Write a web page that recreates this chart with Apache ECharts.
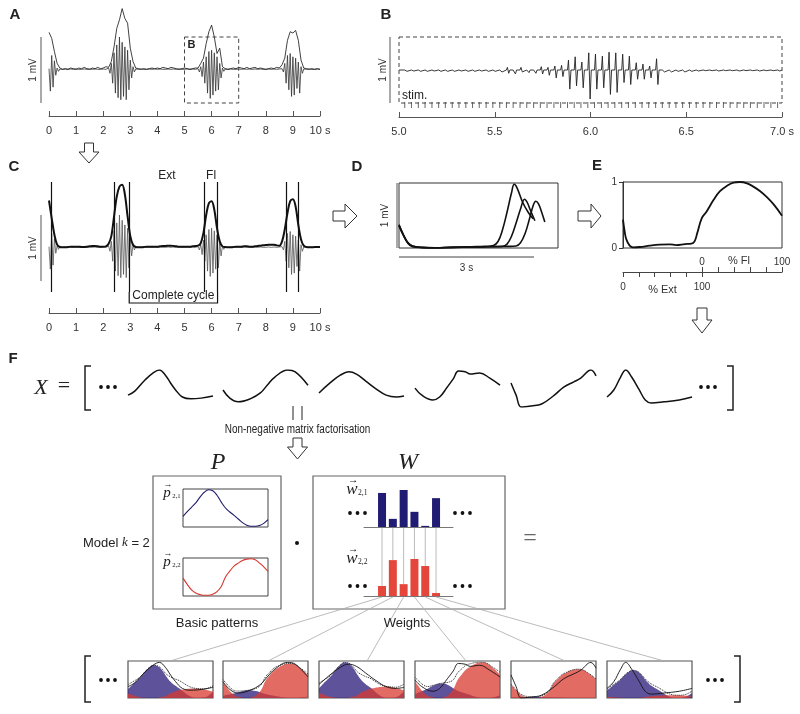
<!DOCTYPE html>
<html><head><meta charset="utf-8">
<script src="https://cdn.jsdelivr.net/npm/echarts@6.0.0/dist/echarts.min.js"></script>
<style>html,body{margin:0;padding:0;background:#fff;}#chart{width:800px;height:714px;}</style>
</head><body><div id="chart"></div>
<script>
// ================= DATA =================
// Panel A/C: raw EMG (mV), sampled every emgStep seconds from 0 s to 10 s
const emgStep = 0.05;
const rawEMG = [
  0.02,-0.32,0.22,-0.26,0.14,-0.08,0.03,-0.02,0.015,-0.015,0.01,-0.015,0.015,-0.01,0.01,-0.015,0.015,-0.01,0.01,-0.015,
  0.015,-0.01,0.01,-0.015,0.01,-0.01,0.015,-0.015,0.01,-0.01,0.015,-0.01,0.01,-0.015,0.015,-0.01,0.01,-0.015,0.01,-0.01,
  0.015,-0.015,0.01,-0.02,0.03,-0.05,0.1,-0.2,0.26,-0.35,0.38,-0.42,0.5,-0.45,0.42,-0.4,0.35,-0.45,0.3,-0.3,
  0.15,-0.12,0.05,-0.03,0.015,-0.01,0.01,-0.015,0.015,-0.01,0.01,-0.015,0.01,-0.01,0.015,-0.015,0.01,-0.01,0.015,-0.01,
  0.01,-0.015,0.015,-0.01,0.01,-0.015,0.01,-0.01,0.015,-0.015,0.01,-0.01,0.015,-0.01,0.01,-0.015,0.015,-0.01,0.01,-0.015,
  0.01,-0.01,0.015,-0.015,0.01,-0.01,0.015,-0.01,0.01,-0.015,0.02,-0.03,0.05,-0.1,0.12,-0.2,0.2,-0.35,0.28,-0.43,
  0.3,-0.38,0.26,-0.32,0.2,-0.3,0.1,-0.12,0.03,-0.02,0.015,-0.01,0.01,-0.015,0.015,-0.01,0.01,-0.015,0.01,-0.01,
  0.015,-0.01,0.01,-0.015,0.015,-0.01,0.01,-0.01,0.015,-0.015,0.01,-0.01,0.015,-0.01,0.01,-0.015,0.015,-0.01,0.01,-0.015,
  0.01,-0.01,0.015,-0.015,0.01,-0.01,0.015,-0.01,0.01,-0.015,0.015,-0.01,0.02,-0.03,0.1,-0.2,0.22,-0.3,0.25,-0.4,
  0.2,-0.38,0.18,-0.28,0.12,-0.35,0.05,-0.05,0.015,-0.01,0.01,-0.015,0.015,-0.01,0.01,-0.015,0.01,-0.01,0.015,-0.01,
  0.01
];
// Envelopes (mV), every envStep seconds
const envStep = 0.1;
const envA = [
  0.57,0.48,0.28,0.1,0.03,0.01,0.02,0.01,0.03,0.02,
  0.01,0.03,0.02,0.04,0.02,0.01,0.03,0.02,0.04,0.02,
  0.03,0.05,0.04,0.13,0.35,0.63,0.76,0.93,0.78,0.71,
  0.33,0.13,0.03,0.02,0.01,0.02,0.01,0.02,0.03,0.02,
  0.03,0.02,0.04,0.03,0.02,0.04,0.03,0.02,0.01,0.02,
  0.03,0.02,0.01,0.02,0.03,0.03,0.1,0.18,0.4,0.58,
  0.68,0.5,0.25,0.33,0.05,0.02,0.01,0.02,0.03,0.02,
  0.04,0.03,0.02,0.04,0.02,0.03,0.04,0.02,0.03,0.02,
  0.01,0.02,0.03,0.02,0.04,0.03,0.08,0.18,0.45,0.58,
  0.56,0.6,0.45,0.15,0.03,0.02,0.01,0.02,0.01,0.02,
  0.01
];
const envC = [
  0.72,0.45,0.2,0.05,0.015,0.01,0.01,0.015,0.02,0.02,
  0.02,0.02,0.015,0.015,0.02,0.025,0.03,0.03,0.025,0.02,
  0.02,0.025,0.065,0.18,0.48,0.78,0.93,0.96,0.81,0.48,
  0.18,0.05,0.015,0.01,0.01,0.015,0.02,0.02,0.02,0.02,
  0.02,0.025,0.03,0.03,0.035,0.035,0.03,0.025,0.02,0.02,
  0.02,0.02,0.02,0.025,0.03,0.035,0.075,0.23,0.5,0.68,
  0.71,0.58,0.3,0.1,0.025,0.015,0.01,0.01,0.015,0.02,
  0.02,0.02,0.025,0.025,0.02,0.02,0.025,0.03,0.035,0.04,
  0.045,0.05,0.05,0.05,0.04,0.035,0.1,0.28,0.53,0.71,
  0.74,0.63,0.35,0.13,0.035,0.015,0.01,0.01,0.015,0.015,
  0.015
];
// Panel C: onsets / offsets of bursts (s)
const cBounds = [0.1, 2.41, 2.96, 5.74, 6.22, 8.75, 9.2];

// Panel B: stimulation times (s) and response peak / trough (mV)
const stimTimes = [5.030,5.065,5.101,5.136,5.172,5.207,5.242,5.278,5.313,5.349,5.384,5.419,5.455,5.490,
  5.526,5.561,5.596,5.632,5.667,5.703,5.738,5.773,5.809,5.844,5.880,5.915,5.950,5.986,6.021,6.057,6.092,
  6.127,6.163,6.198,6.234,6.269,6.304,6.340,6.375,6.411,6.446,6.481,6.517,6.552,6.588,6.623,6.658,6.694,
  6.729,6.765,6.800,6.835,6.871,6.906,6.942,6.977];
const stimUp = [0.02,0.01,0.02,0.015,0.02,0.01,0.02,0.015,0.01,0.02,0.015,0.02,0.01,0.02,
  0.03,0.04,0.03,0.04,0.03,0.03,0.05,0.04,0.06,0.07,
  0.15,0.2,0.12,0.26,0.24,0.21,0.27,0.26,0.24,0.21,0.11,0.09,0.06,0.17,
  0.03,0.02,0.02,0.02,0.02,0.01,0.01,0.01,0.01,0.01,0.01,0.01,0.01,0.01,0.01,0.01,0.01,0.01];
const stimDown = [0.02,0.015,0.02,0.02,0.015,0.02,0.02,0.02,0.015,0.02,0.02,0.015,0.02,0.02,
  0.03,0.05,0.06,0.03,0.04,0.05,0.06,0.08,0.12,0.1,
  0.29,0.24,0.27,0.44,0.29,0.27,0.37,0.34,0.19,0.22,0.14,0.14,0.12,0.22,
  0.03,0.03,0.02,0.03,0.02,0.015,0.01,0.01,0.015,0.01,0.01,0.015,0.01,0.01,0.015,0.01,0.01,0.015];

// Panel D: three envelope cycles [s, mV]
const dCurve1 = [[0,0.35],[0.1,0.2],[0.2,0.08],[0.3,0.03],[0.5,0.01],[0.8,0.0],[1.2,0.01],[1.6,0.02],[1.9,0.025],[2.1,0.04],[2.2,0.1],[2.3,0.28],[2.4,0.55],[2.5,0.85],[2.56,0.98],[2.62,0.93],[2.75,0.7],[2.87,0.55],[2.98,0.45]];
const dCurve2 = [[0,0.34],[0.1,0.19],[0.2,0.08],[0.3,0.03],[0.5,0.01],[0.8,0.005],[1.2,0.01],[1.6,0.015],[2.0,0.02],[2.3,0.025],[2.4,0.06],[2.5,0.18],[2.6,0.38],[2.7,0.6],[2.79,0.75],[2.85,0.7],[2.92,0.58],[3.02,0.42]];
const dCurve3 = [[0,0.36],[0.1,0.2],[0.2,0.07],[0.3,0.02],[0.5,0.005],[0.8,0.0],[1.2,0.01],[1.6,0.015],[2.0,0.02],[2.4,0.025],[2.6,0.03],[2.7,0.08],[2.8,0.22],[2.9,0.45],[2.98,0.65],[3.04,0.72],[3.1,0.68],[3.17,0.55],[3.24,0.4]];

// Panel E: normalised cycle (0-100 % Ext, 100-200 = 0-100 % Fl)
const eCurve = [[0,0.43],[2.1,0.25],[4.2,0.13],[8.4,0.035],[12.6,0.01],[21,0.015],[33.7,0.035],[46,0.05],[59,0.055],[67,0.045],[78,0.06],[86,0.065],[90,0.1],[93.5,0.23],[99,0.45],[105,0.55],[114,0.73],[122,0.86],[130.5,0.94],[139,0.99],[147,1.0],[156,0.98],[164,0.93],[172.6,0.86],[181,0.77],[189.5,0.66],[200,0.49]];

// Panel F: six normalised cycles of the data matrix X
const xCurve1 = [[0,0.32],[0.08,0.43],[0.2,0.73],[0.3,0.93],[0.37,1.0],[0.44,0.86],[0.5,0.65],[0.56,0.46],[0.64,0.27],[0.74,0.22],[0.86,0.24],[1.0,0.3]];
const xCurve2 = [[0,0.46],[0.08,0.24],[0.18,0.14],[0.32,0.22],[0.44,0.38],[0.52,0.59],[0.61,0.81],[0.76,1.0],[0.85,0.95],[1.0,0.59]];
const xCurve3 = [[0,0.38],[0.13,0.65],[0.25,0.86],[0.35,0.95],[0.44,0.89],[0.55,0.7],[0.67,0.49],[0.79,0.32],[0.91,0.27],[1.0,0.3]];
const xCurve4 = [[0,0.51],[0.08,0.32],[0.21,0.19],[0.29,0.27],[0.38,0.54],[0.45,0.76],[0.51,0.97],[0.59,0.95],[0.65,0.89],[0.76,0.92],[0.88,0.78],[1.0,0.59]];
const xCurve5 = [[0,0.65],[0.06,0.32],[0.12,0.0],[0.24,0.03],[0.36,0.08],[0.51,0.32],[0.62,0.54],[0.74,0.68],[0.82,0.78],[0.94,1.0],[1.0,0.84]];
const xCurve6 = [[0,0.27],[0.08,0.46],[0.16,0.81],[0.22,1.0],[0.29,0.81],[0.38,0.46],[0.45,0.19],[0.52,0.11],[0.67,0.14],[0.85,0.19],[1.0,0.27]];
const xCurves = [xCurve1, xCurve2, xCurve3, xCurve4, xCurve5, xCurve6];

// Basic patterns P (k = 2)
const patternX = [0,0.05,0.1,0.15,0.2,0.25,0.3,0.35,0.4,0.45,0.5,0.55,0.6,0.65,0.7,0.75,0.8,0.85,0.9,0.95,1.0];
const p21 = [0.27,0.40,0.52,0.64,0.80,0.93,1.0,0.97,0.85,0.66,0.5,0.39,0.3,0.2,0.1,0.03,0.0,0.0,0.02,0.08,0.18];
const p22 = [0.47,0.3,0.15,0.06,0.02,0.0,0.0,0.03,0.1,0.24,0.5,0.66,0.8,0.88,0.95,0.99,1.0,0.97,0.88,0.78,0.65];
// Weights W
const w21 = [0.92,0.22,1.0,0.41,0.03,0.78];
const w22 = [0.27,0.97,0.32,1.0,0.81,0.08];

// ================= BUILD =================
const FS = '"Liberation Sans", Arial, sans-serif';
const SERIF = '"Liberation Serif", "Times New Roman", serif';
const grids = [], xAxes = [], yAxes = [], series = [];
function addGrid(g, xa, ya) {
  grids.push(Object.assign({containLabel:false}, g));
  const gi = grids.length - 1;
  xAxes.push(Object.assign({gridIndex: gi, type:'value', splitLine:{show:false}}, xa));
  yAxes.push(Object.assign({gridIndex: gi, type:'value', splitLine:{show:false}}, ya));
  return gi;
}
function hid(min, max) { return {show:false, min, max}; }
function timeAxis(min, max, interval, offset, lastLabel, dec) {
  return {min, max, interval, offset, position:'bottom',
    axisLine:{show:true, onZero:false, lineStyle:{color:'#555', width:1}},
    axisTick:{show:true, inside:true, length:5, lineStyle:{color:'#555'}},
    axisLabel:{color:'#333', fontSize:11, fontFamily:FS, margin:9,
      formatter: v => (Math.abs(v - max) < 1e-9 ? lastLabel : v.toFixed(dec))}};
}
function lineS(gi, data, color, width, extra) {
  series.push(Object.assign({type:'line', xAxisIndex:gi, yAxisIndex:gi, data, symbol:'none',
    lineStyle:{color, width}, silent:true}, extra || {}));
}

// A
const GA = addGrid({left:49, top:4, width:271, height:99}, timeAxis(0,10,1,13,'10 s',0), hid(-0.5, 1.0));
lineS(GA, rawEMG.map((v,i)=>[i*emgStep, v]), '#333', 0.8);
lineS(GA, envA.map((v,i)=>[i*envStep, v]), '#111', 0.8);
// B
const GB = addGrid({left:399, top:37, width:383, height:71}, timeAxis(5,7,0.5,9,'7.0 s',1), hid(-0.5-5/66, 0.5));
const bTrace = [[5.0, 0]];
stimTimes.forEach((t,k) => { bTrace.push([t,0],[t+0.005, stimUp[k]],[t+0.012, -stimDown[k]],[t+0.018, 0]); });
bTrace.push([7.0, 0]);
lineS(GB, bTrace, '#222', 0.9);
series.push({type:'scatter', xAxisIndex:GB, yAxisIndex:GB, data: stimTimes.map(t=>[t, -0.5-2/66]),
  symbol:'rect', symbolSize:[1,6], itemStyle:{color:'#444'}, silent:true, clip:false});
// C
const GC = addGrid({left:49, top:182, width:271, height:110}, timeAxis(0,10,1,21,'10 s',0), hid(-2/3, 1.0));
lineS(GC, rawEMG.map((v,i)=>[i*emgStep, v]), '#555', 0.8);
lineS(GC, envC.map((v,i)=>[i*envStep, v]), '#111', 2, {smooth:0.35,
  markLine:{silent:true, symbol:['none','none'], label:{show:false}, lineStyle:{color:'#111', width:1.2, type:'solid'},
    data: cBounds.map(b=>({xAxis:b}))}});
// D
const GD = addGrid({left:399, top:183, width:159, height:65, show:true, borderColor:'#333', borderWidth:1}, hid(0, 3.533), hid(0, 1));
[dCurve1, dCurve2, dCurve3].forEach(c => lineS(GD, c, '#111', 1.6, {smooth:0.4}));
// E
const GE = addGrid({left:623, top:182, width:159, height:66, show:true, borderColor:'#333', borderWidth:1}, hid(0, 200),
  {min:0, max:1, interval:1, axisLine:{show:true, lineStyle:{color:'#333'}}, axisTick:{show:true, length:4, lineStyle:{color:'#333'}},
   axisLabel:{color:'#333', fontSize:10, fontFamily:FS, margin:6}});
lineS(GE, eCurve, '#111', 1.8, {smooth:0.4});
const pctAx = (pos, margin) => ({min:0, max:100, interval:20, position:pos,
  axisLine:{show:true, onZero:false, lineStyle:{color:'#444'}}, axisTick:{show:true, length:5, lineStyle:{color:'#444'}},
  axisLabel:{color:'#333', fontSize:10, fontFamily:FS, margin, formatter: v => (v===0||v===100) ? String(v) : ''}});
const GEx = addGrid({left:623, top:271, width:79, height:1}, pctAx('bottom',10), hid(0,1));
const GFl = addGrid({left:702, top:272, width:80, height:1}, pctAx('top',5), hid(0,1));
// F: X row & reconstruction boxes
const boxLefts = [128, 223, 319, 415, 511, 607];
const GX = boxLefts.map((l,j) => { const gi = addGrid({left:l, top:370, width:85, height:37}, hid(0,1), hid(0,1));
  lineS(gi, xCurves[j], '#111', 1.5, {smooth:0.4}); return gi; });
const GBox = boxLefts.map((l,j) => {
  const gi = addGrid({left:l, top:661, width:85, height:37, show:true, borderColor:'#555', borderWidth:1.2}, hid(0,1), hid(0,1.04));
  const blue = patternX.map((x,i)=>[x, w21[j]*p21[i]]);
  const red = patternX.map((x,i)=>[x, w22[j]*p22[i]]);
  const rec = patternX.map((x,i)=>[x, w21[j]*p21[i] + w22[j]*p22[i]]);
  lineS(gi, blue, 'rgba(0,0,0,0)', 0, {smooth:0.4, areaStyle:{color:'#3a2d84', opacity:0.82}});
  lineS(gi, red, 'rgba(0,0,0,0)', 0, {smooth:0.4, areaStyle:{color:'#d83a30', opacity:0.75}});
  lineS(gi, rec, '#222', 1, {smooth:0.4, lineStyle:{color:'#222', width:1, type:'dotted'}});
  lineS(gi, xCurves[j], '#111', 0.9, {smooth:0.4});
  return gi; });
// P
const GP1 = addGrid({left:183, top:489, width:85, height:38, show:true, borderColor:'#444', borderWidth:1}, hid(0,1), hid(-0.02,1.02));
lineS(GP1, patternX.map((x,i)=>[x,p21[i]]), '#1f1b6b', 1.1, {smooth:0.4});
const GP2 = addGrid({left:183, top:558, width:85, height:38, show:true, borderColor:'#444', borderWidth:1}, hid(0,1), hid(-0.02,1.02));
lineS(GP2, patternX.map((x,i)=>[x,p22[i]]), '#d6352c', 1.1, {smooth:0.4});
// W
const barAx = {min:-1.67, max:6.57, axisLine:{show:true, lineStyle:{color:'#777', width:1}}, axisTick:{show:false}, axisLabel:{show:false}};
const GW1 = addGrid({left:364, top:490, width:89, height:37}, barAx, hid(0,1));
series.push({type:'bar', xAxisIndex:GW1, yAxisIndex:GW1, data:w21.map((v,i)=>[i,v]), barWidth:8, itemStyle:{color:'#211c73'}, silent:true});
const GW2 = addGrid({left:364, top:559, width:89, height:37}, barAx, hid(0,1));
series.push({type:'bar', xAxisIndex:GW2, yAxisIndex:GW2, data:w22.map((v,i)=>[i,v]), barWidth:8, itemStyle:{color:'#e4463b'}, silent:true});

const chart = echarts.init(document.getElementById('chart'));
chart.setOption({animation:false, backgroundColor:'#fff', grid:grids, xAxis:xAxes, yAxis:yAxes, series});

// ================= ANNOTATIONS =================
const px = (gi, x, y) => chart.convertToPixel({gridIndex: gi}, [x, y]);
const G = [];
function T(x, y, text, font, extra, el) {
  const st = Object.assign({text, font: font || ('12px ' + FS), fill:'#222', align:'center', verticalAlign:'middle'}, extra || {});
  st.textAlign = st.align; st.textVerticalAlign = st.verticalAlign;
  G.push(Object.assign({type:'text', x, y, z:100, style:st}, el || {}));
}
function L(x1, y1, x2, y2, color, w, dash) {
  G.push({type:'line', z:90, shape:{x1,y1,x2,y2}, style:{stroke:color||'#222', lineWidth:w||1, lineDash:dash||null}});
}
function PL(points, color, w) { G.push({type:'polyline', z:90, shape:{points}, style:{stroke:color||'#222', lineWidth:w||1, fill:null}}); }
function PG(points) { G.push({type:'polygon', z:95, shape:{points}, style:{stroke:'#333', lineWidth:1, fill:'#fff'}}); }
function R(x, y, w, h, color, lw, dash) { G.push({type:'rect', z:80, shape:{x,y,width:w,height:h}, style:{stroke:color, lineWidth:lw, fill:null, lineDash:dash||null}}); }
function DOT(cx, cy, r) { G.push({type:'circle', z:100, shape:{cx,cy,r}, style:{fill:'#111'}}); }
function dots(x0, y, step) { for (let i=0;i<3;i++) DOT(x0 + i*step, y, 1.9); }
function arrowDown(cx, y0, yh, y1, sh, hh) { PG([[cx-sh,y0],[cx+sh,y0],[cx+sh,yh],[cx+hh,yh],[cx,y1],[cx-hh,yh],[cx-sh,yh]]); }
function arrowRight(cy, x0, xh, x1, sh, hh) { PG([[x0,cy-sh],[xh,cy-sh],[xh,cy-hh],[x1,cy],[xh,cy+hh],[xh,cy+sh],[x0,cy+sh]]); }
const BOLD = 'bold 15px ' + FS;
const mv = (x, y) => T(x, y, '1 mV', '10px ' + FS, {fill:'#333'}, {rotation: Math.PI/2});

// panel letters
T(15, 15, 'A', BOLD); T(386, 15, 'B', BOLD); T(14, 167, 'C', BOLD); T(357, 167, 'D', BOLD); T(597, 166, 'E', BOLD); T(13, 359, 'F', BOLD);
// A
{ const a = px(GA, 0, 0.5), b = px(GA, 0, -0.5); L(41, a[1], 41, b[1], '#555', 1); mv(33, (a[1]+b[1])/2);
  const p1 = px(GA, 5, 0.5), p2 = px(GA, 7, -0.5); R(p1[0], p1[1], p2[0]-p1[0], p2[1]-p1[1], '#444', 1, [4,3]);
  T(p1[0]+7, p1[1]+8, 'B', 'bold 11px ' + FS); }
// B
{ const a = px(GB, 5, 0.5), b = px(GB, 5, -0.5); L(390, a[1], 390, b[1], '#555', 1); mv(383, (a[1]+b[1])/2);
  R(a[0], a[1], px(GB,7,0)[0]-a[0], b[1]-a[1], '#444', 1, [4,3]);
  T(a[0]+3, 96, 'stim.', '12px ' + FS, {align:'left'}); }
// C
{ const a = px(GC, 0, 0.5), b = px(GC, 0, -0.5); L(41, a[1], 41, b[1], '#555', 1); mv(33, (a[1]+b[1])/2);
  const xs = cBounds.map(v => px(GC, v, 0)[0]); const yb = px(GC, 0, -2/3)[1];
  PL([[xs[2], yb],[xs[2], yb+11],[xs[4], yb+11],[xs[4], yb]], '#111', 1.2);
  T((xs[2]+xs[4])/2, yb+4, 'Complete cycle', '12px ' + FS);
  T((xs[2]+xs[3])/2, 176, 'Ext', '12px ' + FS); T((xs[3]+xs[4])/2, 176, 'Fl', '12px ' + FS); }
// D
{ const a = px(GD, 0, 1), b = px(GD, 0, 0); L(397, a[1], 397, b[1], '#555', 1); mv(385, (a[1]+b[1])/2);
  const s0 = px(GD, 0, 0), s1 = px(GD, 3, 0); L(s0[0], 257, s1[0], 257, '#444', 1); T((s0[0]+s1[0])/2, 268, '3 s', '10px ' + FS, {fill:'#333'}); }
// E axis names
{ const e0 = px(GEx, 0, 0), e1 = px(GEx, 100, 0); T((e0[0]+e1[0])/2, e0[1]+18, '% Ext', '11px ' + FS, {fill:'#333'});
  const f0 = px(GFl, 0, 0), f1 = px(GFl, 100, 0); T((f0[0]+f1[0])/2 - 3, f0[1]-12, '% Fl', '11px ' + FS, {fill:'#333'}); }
// arrows
arrowDown(89, 143, 152, 163, 4.5, 10);
arrowRight(216, 333, 345, 357, 5, 12);
arrowRight(216, 578, 591, 601, 5, 12);
arrowDown(702, 308, 320, 333, 5, 10);
// F: X row
T(41, 388, 'X', 'italic 22px ' + SERIF); T(64, 386, '=', '22px ' + SERIF);
PL([[91,366],[85,366],[85,410],[91,410]], '#222', 1.5);
PL([[727,366],[733,366],[733,410],[727,410]], '#222', 1.5);
dots(101, 387, 7); dots(701, 387, 7);
L(293, 406, 293, 420, '#222', 1); L(302, 406, 302, 420, '#222', 1);
T(297.5, 430, 'Non-negative matrix factorisation', '12px ' + FS, {}, {scaleX:0.83});
arrowDown(297.5, 438, 447, 459, 4.5, 10);
// P and W
T(218, 463, 'P', 'italic 24px ' + SERIF); T(408, 463, 'W', 'italic 24px ' + SERIF);
R(153, 476, 128, 133, '#666', 1.2); R(313, 476, 192, 133, '#666', 1.2);
function vecLabel(x, y, letter, sub, size) {
  T(x, y, letter, 'italic ' + size + 'px ' + SERIF);
  T(x + 1, y - size*0.55, '\u2192', (size*0.6) + 'px ' + SERIF);
  T(x + size*0.35, y + 3, sub, (size*0.45) + 'px ' + SERIF, {align:'left'});
}
vecLabel(167, 493, 'p', '2,1', 15); vecLabel(167, 562, 'p', '2,2', 15);
vecLabel(352, 490, 'w', '2,1', 17); vecLabel(352, 559, 'w', '2,2', 17);
T(83, 543, '{n|Model }{i|k}{n| = 2}', '13px ' + FS, {align:'left',
  rich:{n:{font:'13px ' + FS, fill:'#222'}, i:{font:'italic 13px ' + SERIF, fill:'#222'}}});
DOT(297, 543, 2);
T(530, 539, '=', '24px ' + SERIF, {fill:'#666'});
dots(350, 513, 7.5); dots(455, 513, 7.5); dots(350, 586, 7.5); dots(455, 586, 7.5);
T(217, 623, 'Basic patterns', '13px ' + FS); T(407, 623, 'Weights', '13px ' + FS);
// W connectors
w21.forEach((v,i) => { const a = px(GW1, i, 0), b = px(GW2, i, w22[i]); L(a[0], a[1]+1, b[0], b[1], '#aaa', 0.8); });
w22.forEach((v,i) => { const a = px(GW2, i, 0); const e = px(GBox[i], (42 + 3*i)/85, 1.04); L(a[0], a[1]+1, e[0], e[1], '#aaa', 0.8); });
// bottom row
PL([[91,656],[85,656],[85,702],[91,702]], '#222', 1.5);
PL([[734,656],[740,656],[740,702],[734,702]], '#222', 1.5);
dots(101, 680, 7); dots(708, 680, 7);

chart.setOption({graphic: G});
</script></body></html>
